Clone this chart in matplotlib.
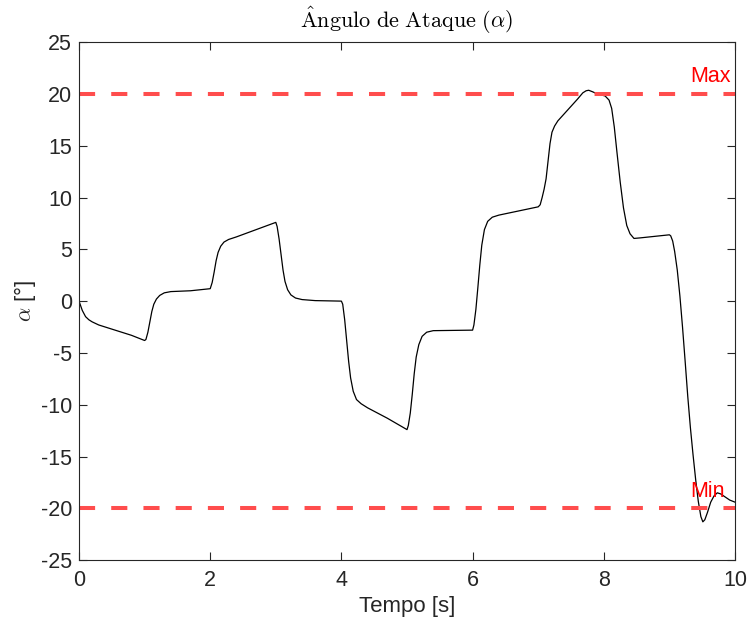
import matplotlib
matplotlib.use("Agg")
import matplotlib.pyplot as plt

# angle of attack time history, read at irregular sample times
t = [0.00, 0.05, 0.10, 0.15, 0.20, 0.30, 0.45, 0.60, 0.80, 1.00,
     1.02, 1.05, 1.08, 1.11, 1.14, 1.18, 1.23, 1.30, 1.40, 1.70, 2.00,
     2.03, 2.06, 2.09, 2.12, 2.16, 2.21, 2.28, 2.40, 2.70, 3.00,
     3.02, 3.05, 3.08, 3.11, 3.14, 3.18, 3.23, 3.30, 3.40, 3.60, 4.00,
     4.02, 4.05, 4.08, 4.11, 4.14, 4.18, 4.23, 4.30, 4.40, 4.70, 5.00,
     5.02, 5.05, 5.08, 5.11, 5.14, 5.18, 5.23, 5.30, 5.40, 6.00,
     6.02, 6.05, 6.08, 6.11, 6.14, 6.18, 6.23, 6.30, 6.40, 6.70, 7.00,
     7.03, 7.06, 7.09, 7.12, 7.15, 7.18, 7.21, 7.25, 7.30, 7.40, 7.50,
     7.60, 7.68, 7.73, 7.77, 7.83, 7.90, 8.02,
     8.08, 8.12, 8.16, 8.20, 8.25, 8.30, 8.35, 8.40, 8.46, 8.55, 9.00,
     9.02, 9.05, 9.08, 9.12, 9.16, 9.20, 9.24, 9.28, 9.32, 9.36, 9.40,
     9.44, 9.48, 9.51, 9.54, 9.58, 9.63, 9.68, 9.73, 9.78, 9.85, 9.92, 10.00]
alpha = [0.0, -0.9, -1.5, -1.8, -2.0, -2.3, -2.6, -2.9, -3.3, -3.8,
         -3.7, -3.0, -2.0, -1.0, -0.3, 0.2, 0.55, 0.8, 0.92, 1.0, 1.2,
         1.8, 2.8, 3.9, 4.7, 5.3, 5.7, 5.95, 6.2, 6.9, 7.6,
         7.2, 6.0, 4.5, 3.0, 1.9, 1.1, 0.6, 0.3, 0.15, 0.05, 0.0,
         -0.3, -1.8, -3.8, -5.8, -7.4, -8.7, -9.5, -9.9, -10.3, -11.3, -12.4,
         -12.0, -10.8, -9.0, -7.0, -5.4, -4.2, -3.4, -3.0, -2.85, -2.8,
         -2.3, -0.8, 1.3, 3.5, 5.4, 6.9, 7.7, 8.1, 8.3, 8.7, 9.1,
         9.3, 10.0, 10.8, 11.8, 13.5, 15.2, 16.3, 16.9, 17.4, 18.1, 18.8,
         19.5, 20.1, 20.3, 20.35, 20.2, 20.0, 19.8,
         19.4, 18.6, 16.8, 14.4, 11.5, 9.0, 7.3, 6.5, 6.05, 6.1, 6.4,
         6.3, 5.8, 4.8, 3.0, 0.5, -2.5, -5.8, -9.2, -12.2, -14.8, -17.2,
         -19.3, -20.8, -21.3, -21.1, -20.4, -19.4, -18.8, -18.5, -18.6, -18.9, -19.2, -19.4]

alpha_max = 20
alpha_min = -20

plt.rcParams["font.family"] = ["Liberation Sans", "DejaVu Sans"]
plt.rcParams["mathtext.fontset"] = "cm"
plt.rcParams["axes.unicode_minus"] = False

fig = plt.figure(figsize=(7.49, 6.28), dpi=100)
ax = fig.add_axes([0.1055, 0.108, 0.8758, 0.825])

ax.plot(t, alpha, color="black", lw=0.9)
limit_color = "#ff4d4d"
ax.axhline(alpha_max, color=limit_color, lw=2.9, ls=(0, (4, 4)))
ax.axhline(alpha_min, color=limit_color, lw=2.9, ls=(0, (4, 4)))
ax.text(9.93, alpha_max + 1.7, "Max", color="red", fontsize=15.5,
        ha="right", va="center")
ax.text(9.85, alpha_min + 1.6, "Min", color="red", fontsize=15.5,
        ha="right", va="center")

ax.set_xlim(0, 10)
ax.set_ylim(-25, 25)
ax.set_xticks([0, 2, 4, 6, 8, 10])
ax.set_yticks(range(-25, 26, 5))
ax.tick_params(direction="in", top=True, right=True, length=6,
               labelsize=15.5, colors="#262626", width=0.8)
ax.tick_params(axis="x", pad=7)
ax.tick_params(axis="y", pad=5)
for s in ax.spines.values():
    s.set_color("#262626")
    s.set_linewidth(0.8)

ax.set_xlabel("Tempo [s]", fontsize=16, color="#262626", labelpad=4)
ax.set_ylabel(r"$\alpha$ [°]", fontsize=16, color="#262626", labelpad=2)
ax.set_title(r"$\mathrm{\hat{A}ngulo\ de\ Ataque\ (}\alpha\mathrm{)}$",
             fontsize=16, pad=10)

fig.savefig("out.png", dpi=100)
